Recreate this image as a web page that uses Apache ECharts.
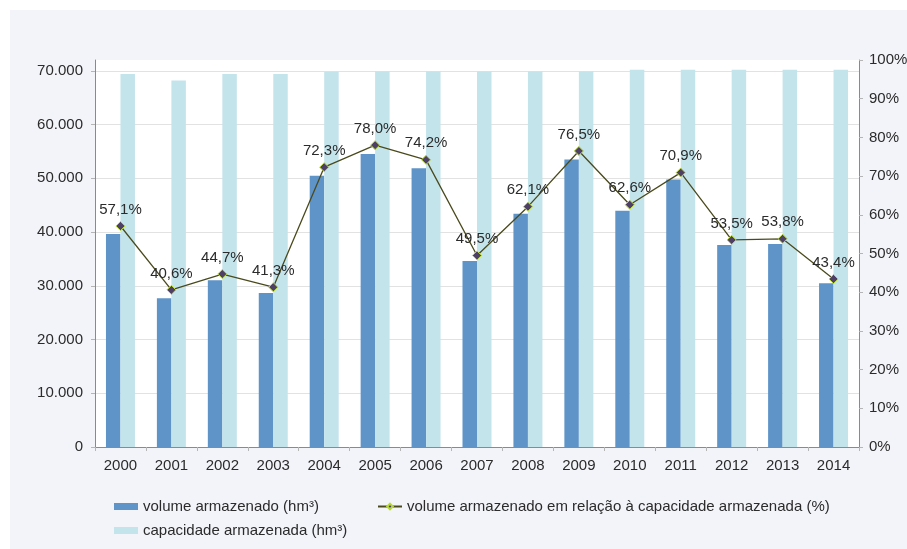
<!DOCTYPE html>
<html>
<head>
<meta charset="utf-8">
<script src="https://cdn.jsdelivr.net/npm/echarts@6/dist/echarts.min.js"></script>
<style>
  html, body { margin: 0; padding: 0; background: #ffffff; }
  #chart { width: 907px; height: 549px; }
</style>
</head>
<body>
<div id="chart"></div>
<script>
// Reservoir storage per year (hm³) and share of capacity (%)
const years = ['2000','2001','2002','2003','2004','2005','2006','2007','2008','2009','2010','2011','2012','2013','2014'];
const storedVolume = [39630, 27690, 31020, 28660, 50470, 54520, 51870, 34600, 43410, 53470, 43950, 49770, 37560, 37770, 30470];
const storedCapacity = [69400, 68200, 69400, 69400, 69800, 69900, 69900, 69900, 69900, 69900, 70200, 70200, 70200, 70200, 70200];
const storedShare = [57.1, 40.6, 44.7, 41.3, 72.3, 78.0, 74.2, 49.5, 62.1, 76.5, 62.6, 70.9, 53.5, 53.8, 43.4];

const leftTicks = { min: 0, max: 72000, interval: 10000 };
const rightTicks = { min: 0, max: 100, interval: 10 };

const FONT = '"Liberation Sans", Arial, Helvetica, sans-serif';
const TXT = '#2b2b2b';
const FS = 15;

const fmtThousands = v => String(v).replace(/\B(?=(\d{3})+(?!\d))/g, '.');
const fmtPct = v => v.toFixed(1).replace('.', ',') + '%';

const chart = echarts.init(document.getElementById('chart'), null, { renderer: 'canvas' });

chart.setOption({
  animation: false,
  backgroundColor: '#ffffff',
  textStyle: { fontFamily: FONT },
  graphic: [{
    type: 'rect',
    z: -10,
    shape: { x: 10, y: 10, width: 897, height: 539 },
    style: { fill: '#f3f4f9' }
  }],
  grid: {
    left: 95, right: 48, top: 60, bottom: 102,
    containLabel: false,
    outerBoundsMode: 'none',
    show: true, backgroundColor: '#ffffff', borderWidth: 0
  },
  legend: [
    {
      data: ['volume armazenado (hm³)'],
      left: 109, top: 494,
      itemWidth: 24, itemHeight: 7, icon: 'rect',
      textStyle: { fontSize: FS, color: TXT, fontFamily: FONT }
    },
    {
      data: ['capacidade armazenada (hm³)'],
      left: 109, top: 518,
      itemWidth: 24, itemHeight: 7, icon: 'rect',
      textStyle: { fontSize: FS, color: TXT, fontFamily: FONT }
    },
    {
      data: ['volume armazenado em relação à capacidade armazenada (%)'],
      left: 372, top: 494,
      itemWidth: 24, itemHeight: 7,
      textStyle: { fontSize: FS, color: TXT, fontFamily: FONT }
    }
  ],
  xAxis: {
    type: 'category',
    data: years,
    axisLine: { lineStyle: { color: '#8a8a8a', width: 1 } },
    axisTick: { show: true, length: 4, lineStyle: { color: '#b5b5b5' } },
    axisLabel: { fontSize: FS, color: TXT, margin: 11, fontFamily: FONT }
  },
  yAxis: [
    {
      type: 'value',
      min: leftTicks.min, max: leftTicks.max, interval: leftTicks.interval,
      axisLine: { show: true, lineStyle: { color: '#8a8a8a', width: 1 } },
      axisTick: { show: true, length: 4, lineStyle: { color: '#b5b5b5' } },
      axisLabel: {
        fontSize: FS, color: TXT, margin: 12, fontFamily: FONT,
        showMaxLabel: false,
        formatter: v => (v > 70000 ? '' : fmtThousands(v))
      },
      splitLine: { show: true, showMaxLine: false, lineStyle: { color: '#e2e2e2', width: 1 } }
    },
    {
      type: 'value',
      min: rightTicks.min, max: rightTicks.max, interval: rightTicks.interval,
      position: 'right',
      axisLine: { show: true, lineStyle: { color: '#8a8a8a', width: 1 } },
      axisTick: { show: true, length: 4, lineStyle: { color: '#b5b5b5' } },
      axisLabel: { fontSize: FS, color: TXT, margin: 10, fontFamily: FONT, formatter: v => v + '%' },
      splitLine: { show: false }
    }
  ],
  series: [
    {
      name: 'volume armazenado (hm³)',
      type: 'bar',
      data: storedVolume,
      barWidth: 14.5,
      barGap: '0%',
      itemStyle: { color: '#5f94c9' }
    },
    {
      name: 'capacidade armazenada (hm³)',
      type: 'bar',
      data: storedCapacity,
      barWidth: 14.5,
      barGap: '0%',
      itemStyle: { color: '#c4e4ec' }
    },
    {
      name: 'volume armazenado em relação à capacidade armazenada (%)',
      type: 'line',
      yAxisIndex: 1,
      data: storedShare,
      symbol: 'diamond',
      symbolSize: 9,
      lineStyle: { color: '#4a4a1c', width: 1.3 },
      itemStyle: { color: '#4e3f66', borderColor: '#b8d83a', borderWidth: 1 },
      label: {
        show: true, position: 'top', distance: 4,
        fontSize: FS, color: TXT, fontFamily: FONT,
        formatter: p => fmtPct(p.value)
      },
      z: 5
    }
  ]
});
</script>
</body>
</html>
